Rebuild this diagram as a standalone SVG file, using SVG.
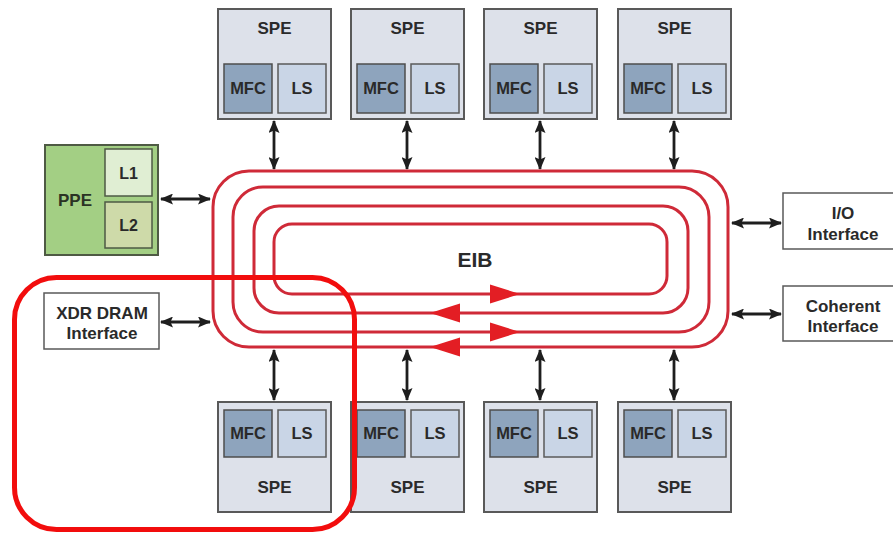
<svg xmlns="http://www.w3.org/2000/svg" width="893" height="533" viewBox="0 0 893 533">
<defs>
<style>
.t{font-family:"Liberation Sans",Arial,sans-serif;font-weight:bold;fill:#2a2a2a;text-anchor:middle;font-size:17px}
.s{font-size:16.5px}
.spe{fill:#dde1ea;stroke:#595959;stroke-width:2}
.mfc{fill:#8ea4bd;stroke:#4d4d4d;stroke-width:1.5}
.ls{fill:#c9d5e6;stroke:#5a5a5a;stroke-width:1.5}
.box{fill:#ffffff;stroke:#595959;stroke-width:1.5}
.ring{fill:none;stroke:#cf2a38;stroke-width:3}
.conn{stroke:#1e1e1e;stroke-width:2.8;fill:none;marker-start:url(#ah);marker-end:url(#ah)}
.red{fill:#e31e24}
</style>
<marker id="ah" markerUnits="userSpaceOnUse" markerWidth="13" markerHeight="11" refX="12" refY="5.5" orient="auto-start-reverse">
<path d="M0,0 L13,5.5 L0,11 L2.5,5.5 z" fill="#1e1e1e"/>
</marker>
</defs>
<rect width="893" height="533" fill="#ffffff"/>

<g id="connectors">
<line class="conn" x1="274" y1="121" x2="274" y2="169"/>
<line class="conn" x1="407" y1="121" x2="407" y2="169"/>
<line class="conn" x1="540" y1="121" x2="540" y2="169"/>
<line class="conn" x1="674" y1="121" x2="674" y2="169"/>
<line class="conn" x1="274" y1="350" x2="274" y2="400"/>
<line class="conn" x1="407" y1="350" x2="407" y2="400"/>
<line class="conn" x1="540" y1="350" x2="540" y2="400"/>
<line class="conn" x1="674" y1="350" x2="674" y2="400"/>
<line class="conn" x1="161" y1="199" x2="210" y2="199"/>
<line class="conn" x1="161" y1="322" x2="210" y2="322"/>
<line class="conn" x1="732" y1="223" x2="781" y2="223"/>
<line class="conn" x1="732" y1="314" x2="781" y2="314"/>
</g>

<g id="EIB">
<rect class="ring" x="213" y="171" width="515" height="176" rx="36"/>
<rect class="ring" x="233" y="187" width="476" height="145" rx="30"/>
<rect class="ring" x="254" y="206" width="434" height="107" rx="25"/>
<rect class="ring" x="274" y="224" width="393" height="70" rx="18"/>
<path class="red" d="M520,294 L490,284.5 L490,303.5 z"/>
<path class="red" d="M430,313 L460,303.5 L460,322.5 z"/>
<path class="red" d="M520,332 L490,322.5 L490,341.5 z"/>
<path class="red" d="M430,347 L460,337.5 L460,356.5 z"/>
<text class="t" x="475" y="266.5" style="font-size:21px">EIB</text>
</g>

<g id="spe-top-1">
<rect class="spe" x="218" y="9" width="113" height="110"/>
<text class="t" x="274.5" y="34">SPE</text>
<rect class="mfc" x="224" y="64" width="48" height="49"/>
<text class="t s" x="248" y="94">MFC</text>
<rect class="ls" x="278" y="64" width="48" height="49"/>
<text class="t s" x="302" y="94">LS</text>
</g>
<g id="spe-top-2">
<rect class="spe" x="351" y="9" width="113" height="110"/>
<text class="t" x="407.5" y="34">SPE</text>
<rect class="mfc" x="357" y="64" width="48" height="49"/>
<text class="t s" x="381" y="94">MFC</text>
<rect class="ls" x="411" y="64" width="48" height="49"/>
<text class="t s" x="435" y="94">LS</text>
</g>
<g id="spe-top-3">
<rect class="spe" x="484" y="9" width="113" height="110"/>
<text class="t" x="540.5" y="34">SPE</text>
<rect class="mfc" x="490" y="64" width="48" height="49"/>
<text class="t s" x="514" y="94">MFC</text>
<rect class="ls" x="544" y="64" width="48" height="49"/>
<text class="t s" x="568" y="94">LS</text>
</g>
<g id="spe-top-4">
<rect class="spe" x="618" y="9" width="113" height="110"/>
<text class="t" x="674.5" y="34">SPE</text>
<rect class="mfc" x="624" y="64" width="48" height="49"/>
<text class="t s" x="648" y="94">MFC</text>
<rect class="ls" x="678" y="64" width="48" height="49"/>
<text class="t s" x="702" y="94">LS</text>
</g>

<g id="spe-bottom-1">
<rect class="spe" x="218" y="402" width="113" height="110"/>
<rect class="mfc" x="224" y="410" width="48" height="47"/>
<text class="t s" x="248" y="439">MFC</text>
<rect class="ls" x="278" y="410" width="48" height="47"/>
<text class="t s" x="302" y="439">LS</text>
<text class="t" x="274.5" y="493">SPE</text>
</g>
<g id="spe-bottom-2">
<rect class="spe" x="351" y="402" width="113" height="110"/>
<rect class="mfc" x="357" y="410" width="48" height="47"/>
<text class="t s" x="381" y="439">MFC</text>
<rect class="ls" x="411" y="410" width="48" height="47"/>
<text class="t s" x="435" y="439">LS</text>
<text class="t" x="407.5" y="493">SPE</text>
</g>
<g id="spe-bottom-3">
<rect class="spe" x="484" y="402" width="113" height="110"/>
<rect class="mfc" x="490" y="410" width="48" height="47"/>
<text class="t s" x="514" y="439">MFC</text>
<rect class="ls" x="544" y="410" width="48" height="47"/>
<text class="t s" x="568" y="439">LS</text>
<text class="t" x="540.5" y="493">SPE</text>
</g>
<g id="spe-bottom-4">
<rect class="spe" x="618" y="402" width="113" height="110"/>
<rect class="mfc" x="624" y="410" width="48" height="47"/>
<text class="t s" x="648" y="439">MFC</text>
<rect class="ls" x="678" y="410" width="48" height="47"/>
<text class="t s" x="702" y="439">LS</text>
<text class="t" x="674.5" y="493">SPE</text>
</g>

<g id="ppe">
<rect x="45" y="145" width="113" height="110" fill="#a3cf84" stroke="#4e5a44" stroke-width="2"/>
<text class="t" x="75" y="205.5" style="fill:#2b3324">PPE</text>
<rect x="105" y="149" width="47" height="47" fill="#e0eed3" stroke="#4e5a44" stroke-width="1.5"/>
<text class="t" x="128.5" y="178.5" style="font-size:16px">L1</text>
<rect x="105" y="202" width="47" height="46" fill="#cedaa9" stroke="#4e5a44" stroke-width="1.5"/>
<text class="t" x="128.5" y="231" style="font-size:16px">L2</text>
</g>

<g id="xdr">
<rect class="box" x="44" y="293" width="115" height="56"/>
<text class="t" x="102" y="319">XDR DRAM</text>
<text class="t" x="102" y="339">Interface</text>
</g>

<g id="io">
<rect class="box" x="783" y="193" width="112" height="56"/>
<text class="t" x="843" y="219">I/O</text>
<text class="t" x="843" y="239.5">Interface</text>
</g>

<g id="coherent">
<rect class="box" x="783" y="286" width="112" height="55"/>
<text class="t" x="843" y="312">Coherent</text>
<text class="t" x="843" y="332">Interface</text>
</g>

<rect id="highlight" x="14.5" y="277.5" width="340" height="252" rx="42" fill="none" stroke="#f20d0d" stroke-width="5"/>
</svg>
